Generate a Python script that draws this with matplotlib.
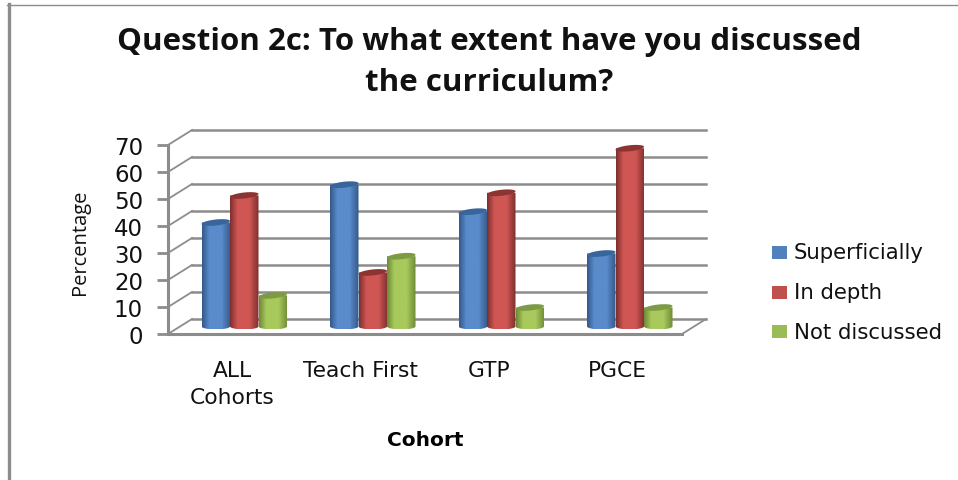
import matplotlib
matplotlib.use("Agg")
import matplotlib.pyplot as plt
import numpy as np
from matplotlib.colors import LinearSegmentedColormap
from matplotlib.patches import PathPatch, Polygon, Rectangle
from matplotlib.path import Path

categories = ["ALL\nCohorts", "Teach First", "GTP", "PGCE"]
superficially = [38.5, 52.5, 42.5, 27]
in_depth = [48.5, 20, 49.5, 66]
not_discussed = [11.5, 26, 7, 7]
series_names = ["Superficially", "In depth", "Not discussed"]
y_ticks = [0, 10, 20, 30, 40, 50, 60, 70]

W, H = 958, 481
# colours of each cylinder: edge, middle, top cap
colors = [("#34598a", "#5a8bcb", "#38659b"),
          ("#7c302e", "#cf5653", "#8c3432"),
          ("#6f8a35", "#a8c95c", "#7d9a45")]
legend_colors = ["#4f81bd", "#c0504d", "#9bbb59"]
GRID = "#8c8c8c"

# pixels of the 3d look
DEPTH_X = 24
DEPTH_Y = 15
BAR_W = 28.5
BAR_STEP = 28.5
CAP_H = 6
CAP_TILT = 1.5
PX_Y = 2.7

fig = plt.figure(figsize=(W / 100, H / 100), dpi=100)
left, right, bottom, top = 168, 682, 335, 146
ax = fig.add_axes([left / W, 1 - bottom / H, (right - left) / W, (bottom - top) / H])
ax.set_xlim(-0.5, 3.5)
ax.set_ylim(0, 70)
ax.patch.set_alpha(0)
for s in ax.spines.values():
    s.set_visible(False)
ax.spines["left"].set_visible(True)
ax.spines["bottom"].set_visible(True)
ax.spines["left"].set_color(GRID)
ax.spines["bottom"].set_color(GRID)
ax.spines["left"].set_linewidth(2.2)
ax.spines["bottom"].set_linewidth(2.2)

px_x = 4 / (right - left)  # data units per pixel along x
dx = DEPTH_X * px_x
dy = DEPTH_Y / PX_Y

# back wall lines and the slanted ones to the front
for t in y_ticks:
    ax.plot([-0.5, -0.5 + dx], [t, t + dy], color=GRID, lw=1.3, clip_on=False, zorder=1)
    ax.plot([-0.5 + dx, 3.5 + dx], [t + dy, t + dy], color=GRID, lw=1.8, clip_on=False, zorder=1)
ax.plot([3.5, 3.5 + dx], [0, dy], color=GRID, lw=1.3, clip_on=False, zorder=1)

ax.set_yticks(y_ticks)
ax.set_xticks(range(len(categories)))
ax.set_xticklabels(categories, fontsize=15.7, linespacing=1.43, color="#111111")
ax.tick_params(axis="y", labelsize=16.5, length=8, width=2, color=GRID, pad=10, labelcolor="#111111")
ax.tick_params(axis="x", length=0, pad=18.5)
ax.set_xlabel("Cohort", fontsize=14.5, fontweight="bold", labelpad=17)
ax.set_ylabel("Percentage", fontsize=14.5, family="Open Sans", va="center", color="#111111")
ax.yaxis.set_label_coords(-0.171, 0.49)

base = 2.8
z = 3
for i, vals in enumerate([superficially, in_depth, not_discussed]):
    edge, mid, cap = colors[i]
    cmap = LinearSegmentedColormap.from_list("c", [(0, edge), (0.25, mid), (0.68, mid), (1, edge)])
    for j, v in enumerate(vals):
        cx = j + 12 * px_x + (i - 1) * BAR_STEP * px_x
        w = BAR_W * px_x
        cap_h = CAP_H / PX_Y
        y0, y1 = base, base + v
        # cylinder body is a gradient clipped to rectangle plus bottom ellipse
        grad = np.linspace(0, 1, 64).reshape(1, -1)
        im = ax.imshow(grad, cmap=cmap, extent=[cx - w / 2, cx + w / 2, y0 - cap_h / 2, y1],
                       aspect="auto", zorder=z, clip_on=True)
        k = 0.5523
        verts = [(cx - w / 2, y1), (cx - w / 2, y0),
                 (cx - w / 2, y0 - k * cap_h / 2), (cx - k * w / 2, y0 - cap_h / 2), (cx, y0 - cap_h / 2),
                 (cx + k * w / 2, y0 - cap_h / 2), (cx + w / 2, y0 - k * cap_h / 2), (cx + w / 2, y0),
                 (cx + w / 2, y1), (cx - w / 2, y1)]
        codes = [Path.MOVETO, Path.LINETO, Path.CURVE4, Path.CURVE4, Path.CURVE4,
                 Path.CURVE4, Path.CURVE4, Path.CURVE4, Path.LINETO, Path.CLOSEPOLY]
        im.set_clip_path(PathPatch(Path(verts, codes), transform=ax.transData))
        # top cap leans a little up to the right
        a = np.linspace(0, 2 * np.pi, 60)
        cap_xy = np.column_stack([cx + w / 2 * np.cos(a),
                                  y1 + cap_h / 2 * np.sin(a) + CAP_TILT / PX_Y * np.cos(a)])
        ax.add_patch(Polygon(cap_xy, closed=True, color=cap, lw=0, zorder=z + 0.5, clip_on=False))
        z += 1
ax.set_xlim(-0.5, 3.5)
ax.set_ylim(0, 70)

# title and frame go on the figure
fig.text(489 / W, 1 - 42 / H, "Question 2c: To what extent have you discussed", fontsize=22.5,
         fontweight="bold", family="Open Sans", ha="center", va="center", color="#111111")
fig.text(489 / W, 1 - 83 / H, "the curriculum?", fontsize=22.5,
         fontweight="bold", family="Open Sans", ha="center", va="center", color="#111111")
fig.add_artist(plt.Line2D([8.5 / W, 8.5 / W], [0, 1 - 5 / H], color=GRID, lw=2.4))
fig.add_artist(plt.Line2D([7 / W, 1], [1 - 5.5 / H, 1 - 5.5 / H], color=GRID, lw=1))

# legend by hand
for i, name in enumerate(series_names):
    yy = 253.5 + i * 39.7
    fig.add_artist(Rectangle((772 / W, 1 - (yy + 6.5) / H), 15 / W, 13 / H, color=legend_colors[i],
                             lw=0, transform=fig.transFigure))
    fig.text(794 / W, 1 - yy / H, name, fontsize=15.3, va="center", color="#111111")

fig.savefig("out.png", dpi=100)
